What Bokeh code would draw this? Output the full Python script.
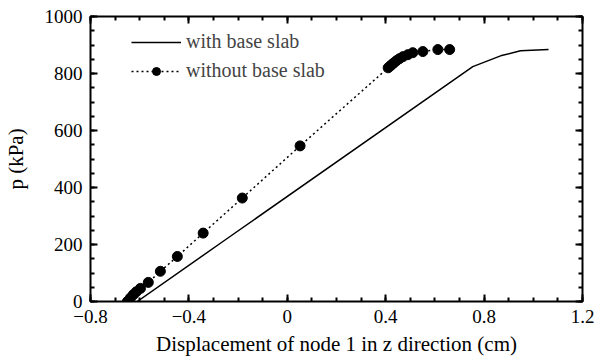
from bokeh.plotting import figure
from bokeh.models import LinearAxis, Range1d, FixedTicker, Legend, LegendItem
from bokeh.embed import file_html
from bokeh.resources import INLINE

# Data
with_x = [-0.61, -0.256, 0.754, 0.867, 0.948, 1.062]
with_y = [0, 214, 824, 862, 880, 884]

without_x = [-0.65, -0.638, -0.626, -0.614, -0.597, -0.565, -0.516, -0.447, -0.342, -0.183, 0.052,
             0.41, 0.418, 0.426, 0.434, 0.444, 0.456, 0.47, 0.49, 0.51, 0.551, 0.612, 0.66]
without_y = [0, 12, 24, 34, 46, 67, 106, 158, 240, 363, 546,
             820, 826, 832, 838, 845, 852, 859, 866, 873, 877, 884, 884]

x_ticks = [-0.8, -0.4, 0, 0.4, 0.8, 1.2]
y_ticks = [0, 200, 400, 600, 800, 1000]
x_label = "Displacement of node 1 in z direction (cm)"
y_label = "p (kPa)"
labels = ["with base slab", "without base slab"]

FONT = "Liberation Serif"

p = figure(width=597, height=359, output_backend="svg", toolbar_location=None,
           x_range=Range1d(-0.8, 1.2), y_range=Range1d(0, 1000),
           min_border_left=89, min_border_right=15, min_border_top=16, min_border_bottom=58,
           x_axis_label=x_label, y_axis_label=y_label)
p.grid.visible = False
p.outline_line_color = "black"
p.outline_line_width = 2
p.background_fill_color = "white"
p.border_fill_color = "white"

r1 = p.line(with_x, with_y, line_color="black", line_width=1.5)
r2 = p.line(without_x, without_y, line_color="black", line_width=1.5, line_dash="2 3")
r3 = p.scatter(without_x, without_y, size=10, fill_color="black", line_color="black")

def style_axis(ax, show_labels=True):
    ax.axis_line_color = None
    ax.major_tick_in = 7
    ax.major_tick_out = 0
    ax.minor_tick_in = 4
    ax.minor_tick_out = 0
    ax.major_tick_line_width = 2
    ax.minor_tick_line_width = 2
    ax.major_tick_line_color = "black"
    ax.minor_tick_line_color = "black"
    ax.major_label_text_font = FONT
    ax.major_label_text_font_size = "19px"
    ax.major_label_text_color = "black"
    ax.axis_label_text_font = FONT
    ax.axis_label_text_font_size = "21px"
    ax.axis_label_text_font_style = "normal"
    ax.axis_label_text_color = "black"
    if not show_labels:
        ax.major_label_text_color = None
        ax.major_label_text_alpha = 0

xminor = [round(-0.8 + 0.1 * i, 2) for i in range(21)]
yminor = [50 * i for i in range(21)]

for ax in p.xaxis:
    style_axis(ax)
    ax.ticker = FixedTicker(ticks=x_ticks, minor_ticks=xminor)
    ax.major_label_overrides = {-0.8: "\u22120.8", -0.4: "\u22120.4", 0: "0", 0.4: "0.4", 0.8: "0.8", 1.2: "1.2"}
    ax.major_label_standoff = 8
    ax.axis_label_standoff = 6
for ax in p.yaxis:
    style_axis(ax)
    ax.ticker = FixedTicker(ticks=y_ticks, minor_ticks=yminor)
    ax.major_label_standoff = 8
    ax.axis_label_standoff = 14

top = LinearAxis()
style_axis(top, False)
top.ticker = FixedTicker(ticks=x_ticks, minor_ticks=xminor)
p.add_layout(top, "above")
right = LinearAxis()
style_axis(right, False)
right.ticker = FixedTicker(ticks=y_ticks, minor_ticks=yminor)
p.add_layout(right, "right")

legend = Legend(items=[LegendItem(label=labels[0], renderers=[r1]),
                       LegendItem(label=labels[1], renderers=[r2, r3])],
                location=(41, 219), border_line_color=None, background_fill_alpha=0,
                label_text_font=FONT, label_text_font_size="20px", label_height=20,
                glyph_height=20, glyph_width=50, spacing=6, padding=0, margin=0,
                label_standoff=5)
p.add_layout(legend)

open("out.html", "w").write(file_html(p, INLINE))
